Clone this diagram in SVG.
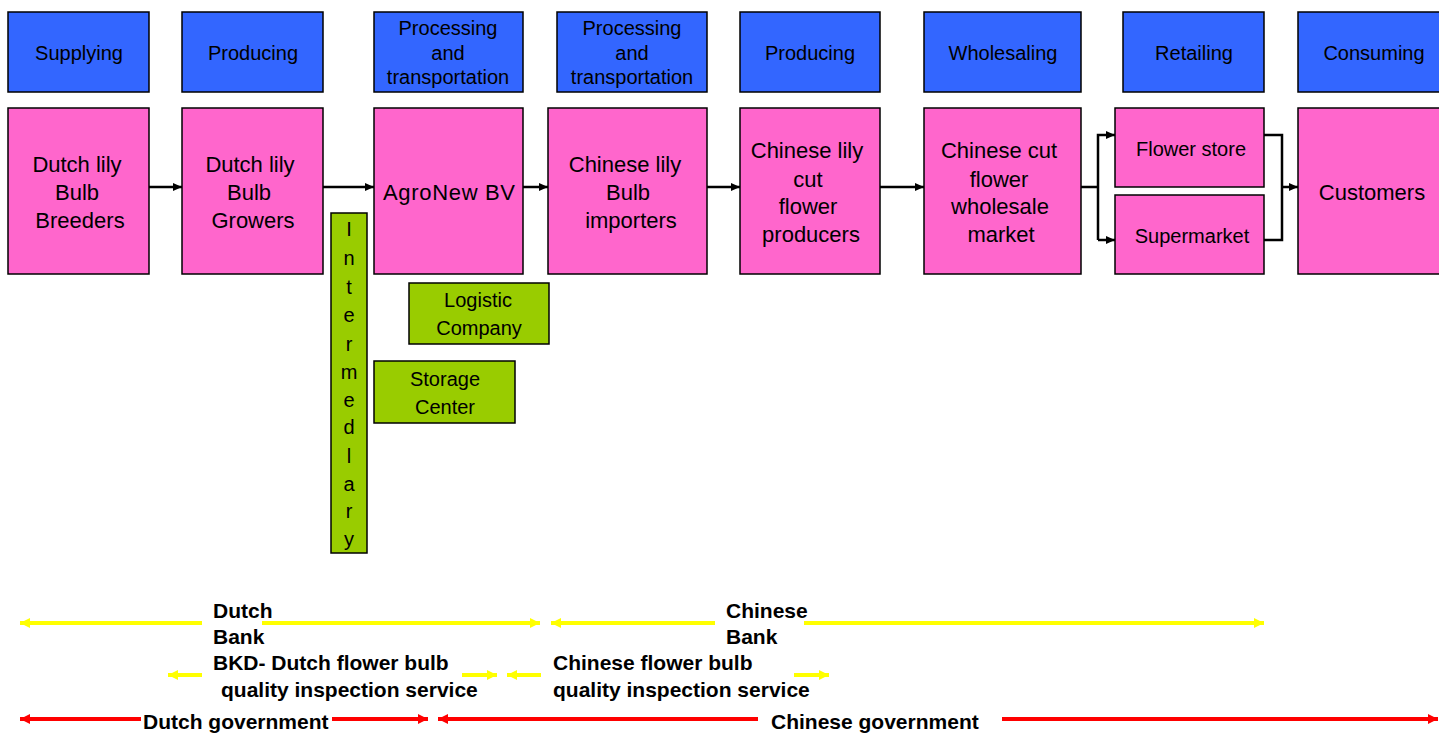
<svg xmlns="http://www.w3.org/2000/svg" width="1439" height="733" viewBox="0 0 1439 733">
<defs>
<marker id="ab" markerUnits="userSpaceOnUse" markerWidth="10" markerHeight="10" refX="9" refY="5" orient="auto"><path d="M0,1 L9,5 L0,9 Z" fill="#000"/></marker>
<marker id="ay" markerUnits="userSpaceOnUse" markerWidth="12" markerHeight="12" refX="10" refY="6" orient="auto"><path d="M0,1 L10,6 L0,11 Z" fill="#FFFF00"/></marker>
<marker id="ar" markerUnits="userSpaceOnUse" markerWidth="12" markerHeight="12" refX="10" refY="6" orient="auto"><path d="M0,1 L10,6 L0,11 Z" fill="#FF0000"/></marker>
</defs>
<style>
.hd{fill:#3366FF;stroke:#000;stroke-width:1.5}
.pk{fill:#FF66CC;stroke:#000;stroke-width:1.5}
.gr{fill:#99CC00;stroke:#000;stroke-width:1.5}
text{font-family:"Liberation Sans",Arial,sans-serif;fill:#000}
.t20{font-size:20px;text-anchor:middle}
.t22{font-size:22px;text-anchor:middle}
.b{font-size:21px;font-weight:bold}
.c{fill:none;stroke:#000;stroke-width:2.5}
.y{fill:none;stroke:#FFFF00;stroke-width:4}
.r{fill:none;stroke:#FF0000;stroke-width:4}
</style>
<rect width="1439" height="733" fill="#fff"/>

<g id="h1"><rect class="hd" x="8" y="12" width="141" height="80"/><text class="t20" x="79" y="60">Supplying</text></g>
<g id="h2"><rect class="hd" x="182" y="12" width="141" height="80"/><text class="t20" x="253" y="60">Producing</text></g>
<g id="h3"><rect class="hd" x="374" y="12" width="149" height="80"/><text class="t20" x="448" y="35">Processing</text><text class="t20" x="448" y="60">and</text><text class="t20" x="448" y="84">transportation</text></g>
<g id="h4"><rect class="hd" x="557" y="12" width="150" height="80"/><text class="t20" x="632" y="35">Processing</text><text class="t20" x="632" y="60">and</text><text class="t20" x="632" y="84">transportation</text></g>
<g id="h5"><rect class="hd" x="740" y="12" width="140" height="80"/><text class="t20" x="810" y="60">Producing</text></g>
<g id="h6"><rect class="hd" x="924" y="12" width="157" height="80"/><text class="t20" x="1003" y="60">Wholesaling</text></g>
<g id="h7"><rect class="hd" x="1123" y="12" width="141" height="80"/><text class="t20" x="1194" y="60">Retailing</text></g>
<g id="h8"><rect class="hd" x="1298" y="12" width="145" height="80"/><text class="t20" x="1374" y="60">Consuming</text></g>

<g id="n1"><rect class="pk" x="8" y="108" width="141" height="166"/><text class="t22" x="77" y="172">Dutch lily</text><text class="t22" x="77" y="200">Bulb</text><text class="t22" x="80" y="228">Breeders</text></g>
<g id="n2"><rect class="pk" x="182" y="108" width="141" height="166"/><text class="t22" x="250" y="172">Dutch lily</text><text class="t22" x="249" y="200">Bulb</text><text class="t22" x="253" y="228">Growers</text></g>
<g id="n3"><rect class="pk" x="374" y="108" width="149" height="166"/><text class="t22" x="449" y="200" textLength="132">AgroNew BV</text></g>
<g id="n4"><rect class="pk" x="548" y="108" width="159" height="166"/><text class="t22" x="625" y="172">Chinese lily</text><text class="t22" x="628" y="200">Bulb</text><text class="t22" x="631" y="228">importers</text></g>
<g id="n5"><rect class="pk" x="740" y="108" width="140" height="166"/><text class="t22" x="807" y="158">Chinese lily</text><text class="t22" x="808" y="187">cut</text><text class="t22" x="808" y="214">flower</text><text class="t22" x="811" y="242">producers</text></g>
<g id="n6"><rect class="pk" x="924" y="108" width="157" height="166"/><text class="t22" x="999" y="158">Chinese cut</text><text class="t22" x="999" y="187">flower</text><text class="t22" x="1000" y="214">wholesale</text><text class="t22" x="1001" y="242">market</text></g>
<g id="n7a"><rect class="pk" x="1115" y="108" width="149" height="79"/><text class="t20" x="1191" y="156">Flower store</text></g>
<g id="n7b"><rect class="pk" x="1115" y="195" width="149" height="79"/><text class="t20" x="1192" y="243">Supermarket</text></g>
<g id="n8"><rect class="pk" x="1298" y="108" width="145" height="166"/><text class="t22" x="1372" y="200">Customers</text></g>

<g id="n9"><rect class="gr" x="331" y="213" width="36" height="340"/>
<text class="t20" x="349"><tspan x="349" y="236">I</tspan><tspan x="349" y="265">n</tspan><tspan x="349" y="294">t</tspan><tspan x="349" y="322">e</tspan><tspan x="349" y="351">r</tspan><tspan x="349" y="379">m</tspan><tspan x="349" y="407">e</tspan><tspan x="349" y="434">d</tspan><tspan x="349" y="463">l</tspan><tspan x="349" y="491">a</tspan><tspan x="349" y="518">r</tspan><tspan x="349" y="546">y</tspan></text></g>
<g id="n10"><rect class="gr" x="409" y="283" width="140" height="61"/><text class="t20" x="478" y="307">Logistic</text><text class="t20" x="479" y="335">Company</text></g>
<g id="n11"><rect class="gr" x="374" y="361" width="141" height="62"/><text class="t20" x="445" y="386">Storage</text><text class="t20" x="445" y="414">Center</text></g>

<g id="connectors">
<path class="c" d="M149,187 H182" marker-end="url(#ab)"/>
<path class="c" d="M323,187 H374" marker-end="url(#ab)"/>
<path class="c" d="M523,187 H548" marker-end="url(#ab)"/>
<path class="c" d="M707,187 H740" marker-end="url(#ab)"/>
<path class="c" d="M880,187 H924" marker-end="url(#ab)"/>
<path class="c" d="M1081,187 H1098"/>
<path class="c" d="M1098,240 V135 H1115" marker-end="url(#ab)"/>
<path class="c" d="M1098,240 H1115" marker-end="url(#ab)"/>
<path class="c" d="M1264,135 H1282 V240 H1264"/>
<path class="c" d="M1282,187 H1298" marker-end="url(#ab)"/>

<path class="y" d="M202,623 H20" marker-end="url(#ay)"/>
<path class="y" d="M262,623 H540" marker-end="url(#ay)"/>
<path class="y" d="M715,623 H551" marker-end="url(#ay)"/>
<path class="y" d="M804,623 H1264" marker-end="url(#ay)"/>
<path class="y" d="M202,675 H168" marker-end="url(#ay)"/>
<path class="y" d="M462,675 H497" marker-end="url(#ay)"/>
<path class="y" d="M541,675 H507" marker-end="url(#ay)"/>
<path class="y" d="M794,675 H829" marker-end="url(#ay)"/>

<path class="r" d="M141,719 H20" marker-end="url(#ar)"/>
<path class="r" d="M332,719 H428" marker-end="url(#ar)"/>
<path class="r" d="M758,719 H438" marker-end="url(#ar)"/>
<path class="r" d="M1002,719 H1438" marker-end="url(#ar)"/>
</g>

<g id="labels">
<text class="b" x="213" y="618">Dutch</text>
<text class="b" x="213" y="644">Bank</text>
<text class="b" x="213" y="670">BKD- Dutch flower bulb</text>
<text class="b" x="221" y="697">quality inspection service</text>
<text class="b" x="143" y="729">Dutch government</text>
<text class="b" x="726" y="618">Chinese</text>
<text class="b" x="726" y="644">Bank</text>
<text class="b" x="553" y="670">Chinese flower bulb</text>
<text class="b" x="553" y="697">quality inspection service</text>
<text class="b" x="771" y="729">Chinese government</text>
</g>
</svg>
